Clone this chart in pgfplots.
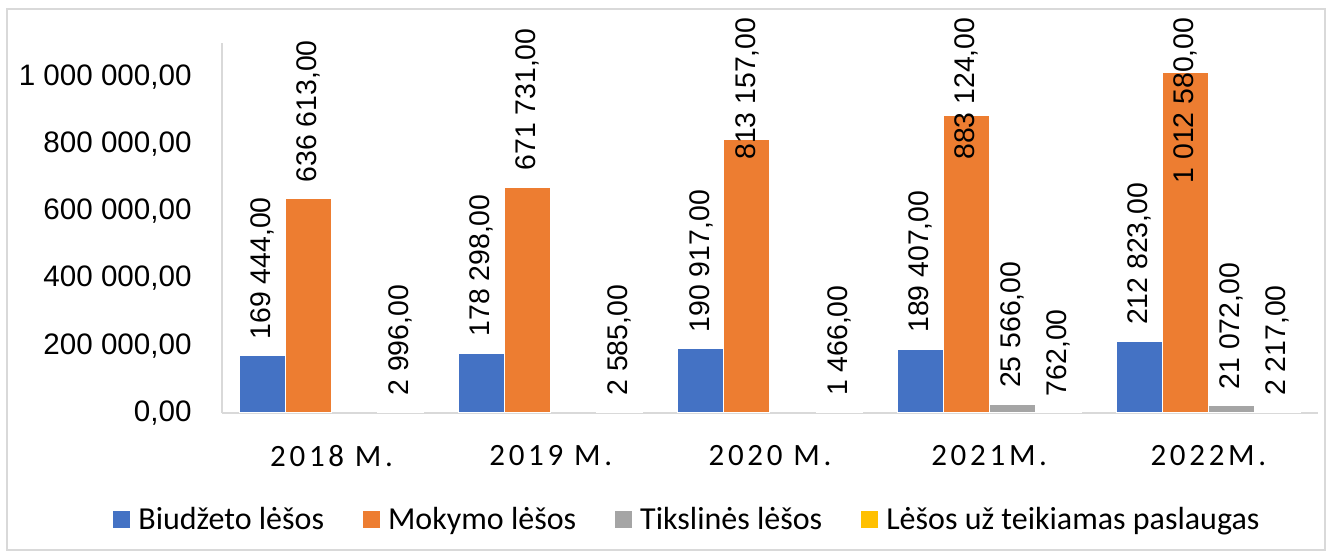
\documentclass[border=0pt]{standalone}
\usepackage{fontspec}
\setmainfont{Liberation Sans}
\newfontfamily\calfont{Carlito}
\newfontfamily\catfont{Carlito}[LetterSpace=12]
\usepackage{pgfplots}
\pgfplotsset{compat=1.18}
\usepackage{pgfplotstable}

\definecolor{cBlue}{HTML}{4472C4}
\definecolor{cOrange}{HTML}{ED7D31}
\definecolor{cGray}{HTML}{A5A5A5}
\definecolor{cYellow}{HTML}{FFC000}
\definecolor{axgray}{HTML}{D9D9D9}

\pgfplotstableread{
x y
0 169444
1 178298
2 190917
3 189407
4 212823
}\biud
\pgfplotstableread{
x y off
0 636613 0
1 671731 0
2 813157 -18.35
3 883124 -30.1
4 1012580 -63.75
}\moky
\pgfplotstableread{
x y
3 25566
4 21072
}\tiks
\pgfplotstableread{
x y
0 2996
1 2585
2 1466
3 762
4 2217
}\pasl

\begin{document}
\begin{tikzpicture}
\path[use as bounding box, fill=white] (-111pt,-71pt) rectangle (554pt,206.5pt);
\draw[axgray, line width=0.75pt] (-107.5pt,-68.5pt) rectangle (551.5pt,202pt);
\begin{axis}[
  at={(0pt,0pt)}, anchor=south west,
  scale only axis, width=548pt, height=185pt,
  ybar=0pt, bar width=0.21,
  xmin=-0.5, xmax=4.5, ymin=0, ymax=1100000,
  xtick={0,1,2,3,4},
  xticklabels={2018 M.,2019 M.,2020 M.,2021M.,2022M.},
  ytick={0,200000,400000,600000,800000,1000000},
  scaled y ticks=false,
  major tick length=0pt,
  axis x line*=bottom, axis y line*=left,
  axis line style={-, draw=axgray, line width=0.75pt},
  clip=false,
  /pgf/number format/.cd, fixed, fixed zerofill, precision=2, use comma, 1000 sep={\ }, assume math mode=true,
  /pgfplots/.cd,
  yticklabel style={font=\fontsize{14.8}{17}\selectfont, inner sep=0pt, xshift=-15pt, text=black},
  xticklabel style={font=\catfont\fontsize{15.5}{18}\selectfont, inner sep=0pt, anchor=north, yshift=-16pt, text=black},
  every node near coord/.append style={font=\fontsize{14.2}{16}\selectfont, rotate=90, anchor=west, inner sep=0pt, xshift=8pt, text=black},
  legend style={at={(-0.09945,-0.28784)}, anchor=west, draw=none, fill=none, inner sep=0pt,
    font=\calfont\fontsize{16}{19}\selectfont, legend columns=4,
    nodes={inner sep=0pt},
    /tikz/every odd column/.append style={column sep=4pt},
    /tikz/every even column/.append style={column sep=19.5pt}},
  legend cell align=left,
  legend image code/.code={\path[#1, draw=none] (0pt,-4.25pt) rectangle (8.5pt,4.25pt);},
]
\addplot[fill=cBlue, draw=white, line width=0.5pt, nodes near coords] table[x=x,y=y] {\biud};
\addlegendentry{Biudžeto lėšos}
\addplot[fill=cOrange, draw=white, line width=0.5pt, nodes near coords,
  visualization depends on={\thisrow{off} \as \off},
  every node near coord/.append style={xshift=\off pt}] table[x=x,y=y] {\moky};
\addlegendentry{Mokymo lėšos}
\addplot[fill=cGray, draw=white, line width=0.5pt, nodes near coords] table[x=x,y=y] {\tiks};
\addlegendentry{Tikslinės lėšos}
\addplot[fill=cYellow, draw=white, line width=0.5pt, nodes near coords] table[x=x,y=y] {\pasl};
\addlegendentry{Lėšos už teikiamas paslaugas}
\end{axis}
\end{tikzpicture}
\end{document}
